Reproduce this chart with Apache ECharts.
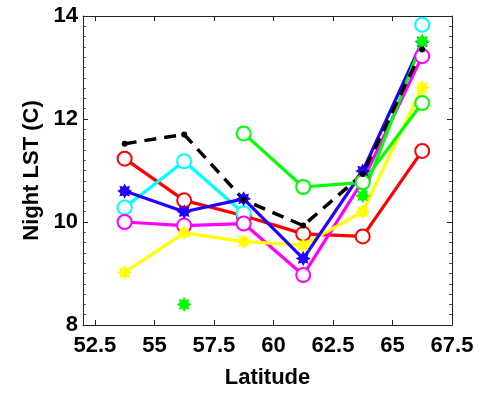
<!DOCTYPE html>
<html>
<head>
<meta charset="utf-8">
<script src="https://cdn.jsdelivr.net/npm/echarts@6/dist/echarts.min.js"></script>
<style>
html,body{margin:0;padding:0;background:#fff;}
#chart{width:485px;height:394px;}
</style>
</head>
<body>
<div id="chart"></div>
<script>
// Latitude bin centres
var latitudes = [53.75, 56.25, 58.75, 61.25, 63.75, 66.25];
var xTickValues = [52.5, 55, 57.5, 60, 62.5, 65, 67.5];
var yTickValues = [8, 10, 12, 14];

// Night LST (C) per series (null = no data)
var blackDashed = [11.52, 11.70, 10.43, 9.93, 10.93, 13.35];
var redCircle   = [11.23, 10.42, 10.12, 9.77, 9.72, 11.38];
var cyanCircle  = [10.28, 11.18, 10.17, null, null, 13.83];
var blueStar    = [10.60, 10.20, 10.45, 9.29, 10.99, 13.50];
var magentaCircle = [10.00, 9.93, 9.97, 8.97, 10.80, 13.22];
var yellowStar  = [9.02, 9.79, 9.62, 9.55, 10.20, 12.61];
var greenStar   = [null, 8.40, null, null, 10.51, 13.51];
var greenCircle = [null, null, 11.72, 10.68, 10.77, 12.31];

function pairs(vals) {
  return latitudes.map(function (x, i) { return [x, vals[i] == null ? '-' : vals[i]]; });
}

// asterisk-like blob marker (8 bumps)
var STAR = (function () {
  var pts = [];
  for (var k = 0; k < 16; k++) {
    var a = (k * 22.5 - 90) * Math.PI / 180;
    var r = (k % 2 === 0) ? 10 : 6.2;
    pts.push((10 + r * Math.cos(a)).toFixed(2) + ',' + (10 + r * Math.sin(a)).toFixed(2));
  }
  return 'path://M' + pts.join('L') + 'Z';
})();

function circleSeries(name, vals, color) {
  return {
    name: name, type: 'line', data: pairs(vals), connectNulls: false,
    showAllSymbol: true, symbol: 'emptyCircle', symbolSize: 14,
    lineStyle: {color: color, width: 3.2},
    itemStyle: {color: color, borderColor: color, borderWidth: 3},
    emphasis: {disabled: true}
  };
}
function starSeries(name, vals, color) {
  return {
    name: name, type: 'line', data: pairs(vals), connectNulls: false,
    showAllSymbol: true, symbol: STAR, symbolSize: 15,
    lineStyle: {color: color, width: 3.2},
    itemStyle: {color: color, borderWidth: 0},
    emphasis: {disabled: true}
  };
}

var labelFont = {fontFamily: 'Liberation Sans, Arial, sans-serif', fontWeight: 'bold', fontSize: 22, color: '#000'};
var axisLineStyle = {color: '#222', width: 1};

var chart = echarts.init(document.getElementById('chart'));
chart.setOption({
  animation: false,
  backgroundColor: '#fff',
  grid: {left: 83, right: 33, top: 16, bottom: 65},
  xAxis: [{
    type: 'value', min: 52, max: 67.5, position: 'bottom',
    name: 'Latitude', nameLocation: 'middle', nameGap: 42,
    nameTextStyle: labelFont,
    axisLine: {show: true, lineStyle: axisLineStyle},
    axisTick: {show: true, inside: true, length: 5, customValues: xTickValues, lineStyle: axisLineStyle},
    axisLabel: Object.assign({customValues: xTickValues, margin: 10, formatter: function (v) { return String(v); }}, labelFont),
    splitLine: {show: false}
  }, {
    type: 'value', min: 52, max: 67.5, position: 'top',
    axisLine: {show: true, lineStyle: axisLineStyle},
    axisTick: {show: true, inside: true, length: 5, customValues: xTickValues, lineStyle: axisLineStyle},
    axisLabel: {show: false},
    splitLine: {show: false}
  }],
  yAxis: [{
    type: 'value', min: 8, max: 14, interval: 2, position: 'left',
    name: 'Night LST (C)', nameLocation: 'middle', nameGap: 38, nameRotate: 90,
    nameTextStyle: labelFont,
    axisLine: {show: true, lineStyle: axisLineStyle},
    axisTick: {show: true, inside: true, length: 5, lineStyle: axisLineStyle},
    minorTick: {show: true, splitNumber: 10, length: 3, lineStyle: {color: '#555', width: 1}},
    axisLabel: Object.assign({margin: 5, formatter: function (v) { return String(v); }}, labelFont),
    splitLine: {show: false}
  }, {
    type: 'value', min: 8, max: 14, interval: 2, position: 'right',
    axisLine: {show: true, lineStyle: axisLineStyle},
    axisTick: {show: true, inside: true, length: 5, lineStyle: axisLineStyle},
    minorTick: {show: true, splitNumber: 10, length: 3, lineStyle: {color: '#555', width: 1}},
    axisLabel: {show: false},
    splitLine: {show: false}
  }],
  series: [
    circleSeries('red', redCircle, '#ff0000'),
    circleSeries('cyan', cyanCircle, '#00ffff'),
    circleSeries('magenta', magentaCircle, '#ff00ff'),
    starSeries('yellow', yellowStar, '#ffff00'),
    starSeries('blue', blueStar, '#2200ff'),
    starSeries('greenStar', greenStar, '#00ff00'),
    circleSeries('greenCircle', greenCircle, '#00ff00'),
    {
      name: 'black', type: 'line', data: pairs(blackDashed),
      showAllSymbol: true, symbol: 'circle', symbolSize: 6,
      lineStyle: {color: '#000', width: 3.5, type: [12, 8]},
      itemStyle: {color: '#000'},
      emphasis: {disabled: true}
    }
  ]
});
</script>
</body>
</html>
